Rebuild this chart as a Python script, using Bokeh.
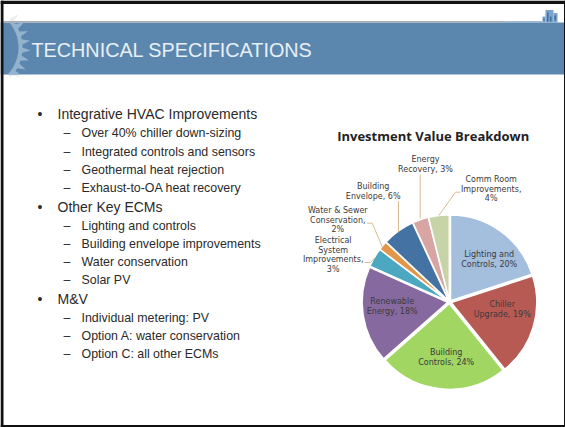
import numpy as np
from bokeh.plotting import figure
from bokeh.embed import file_html
from bokeh.resources import INLINE
from bokeh.core.properties import value

# ---- data
slice_names = ["Lighting and\nControls, 20%", "Chiller\nUpgrade, 19%", "Building\nControls, 24%",
               "Renewable\nEnergy, 18%", "Electrical\nSystem\nImprovements,\n3%",
               "Water & Sewer\nConservation,\n2%", "Building\nEnvelope, 6%",
               "Energy\nRecovery, 3%", "Comm Room\nImprovements,\n4%"]
slice_values = [20.0, 19.2, 24.3, 18.2, 3.6, 1.7, 6.1, 3.0, 3.9]
slice_colors = ["#A4BEDE", "#B85A54", "#A1D662", "#86699F", "#4BA8C0",
                "#E3964A", "#4472A2", "#D9A5A3", "#C6D4A8"]
chart_title = "Investment Value Breakdown"
slide_title = "TECHNICAL SPECIFICATIONS"
main_items = ["Integrative HVAC Improvements", "Other Key ECMs", "M&V"]
sub_items = [["Over 40% chiller down-sizing", "Integrated controls and sensors",
              "Geothermal heat rejection", "Exhaust-to-OA heat recovery"],
             ["Lighting and controls", "Building envelope improvements",
              "Water conservation", "Solar PV"],
             ["Individual metering: PV", "Option A: water conservation",
              "Option C: all other ECMs"]]

W, H = 565, 427
def Y(v):
    return H - np.asarray(v, dtype=float)

p = figure(width=W, height=H, x_range=(0, W), y_range=(0, H), output_backend="svg",
           toolbar_location=None, min_border=0, outline_line_color=None,
           x_axis_type=None, y_axis_type=None, margin=(0, 0, 0, 0))
p.grid.visible = False
p.background_fill_color = "white"

# ---- gear (pale part outside the band, then the band, then the gear clipped to band)
gx, gy, gr = -21, 47, 39
ang, rad = [], []
for a in np.arange(-44, 44, 11.0):
    ang += [a, a + 3.5, a + 7.0]
    rad += [gr + 4, gr + 12, gr + 4]
ang = np.radians(np.array(ang + [44]))
rad = np.array(rad + [gr + 4])
inner = np.radians(np.arange(44, -45, -6.0))
ga = np.concatenate([ang, inner])
gra = np.concatenate([rad, np.full(inner.size, gr)])
g_x = gx + gra * np.cos(ga)
g_y = gy + gra * np.sin(ga)
p.patch(g_x, Y(g_y), fill_color="#EDEFF1", line_color=None)

# header band
p.quad(left=[0], right=[W], top=Y([22]), bottom=Y([74]), fill_color="#5B87AE", line_color=None)
p.line([3, 505], Y([21.2, 21.2]), line_color="#A9ABAD", line_width=1.5)
p.line([505, 542], Y([21.4, 21.4]), line_color="#7FA3C7", line_width=1.2)
p.patch(g_x, Y(np.clip(g_y, 22, 74)), fill_color="#93B2CC", line_color=None)

# building icon
p.quad(left=[542, 545, 553], right=[545, 553, 557], top=Y([16, 9.5, 12.5]),
       bottom=Y([22, 22, 22]), fill_color="#7BA3CC", line_color=None)
p.quad(left=[543, 546.5, 549.5, 554], right=[544, 548, 551, 555.5], top=Y([18, 12, 16, 15]),
       bottom=Y([20.5, 21, 21, 20]), fill_color="#3F6F9F", line_color=None)

p.text([31], Y([49.8]), text=[slide_title], text_font=value("Liberation Sans"), text_font_size="19.8px",
       text_color="#E8EFF5", text_baseline="middle", text_align="left")

# ---- bullet list
row_y = [113.8, 206.0, 298.0]
sub_step = 18.2
for my, main, subs in zip(row_y, main_items, sub_items):
    p.text([37], Y([my]), text=["•"], text_font=value("Liberation Sans"), text_font_size="14px",
           text_color="#2A2A2A", text_baseline="middle")
    p.text([57], Y([my]), text=[main], text_font=value("Liberation Sans"), text_font_size="14px",
           text_color="#2A2A2A", text_baseline="middle")
    for i, s in enumerate(subs):
        yy = my + 19.0 + i * sub_step
        p.text([63], Y([yy]), text=["–"], text_font=value("Liberation Sans"), text_font_size="12.4px",
               text_color="#2A2A2A", text_baseline="middle")
        p.text([81], Y([yy]), text=[s], text_font=value("Liberation Sans"), text_font_size="12.4px",
               text_color="#2A2A2A", text_baseline="middle")

# ---- pie
cx, cy, R, gap = 449.0, 301.5, 85.5, 1.8
vals = np.array(slice_values, dtype=float)
cum = np.concatenate([[0], np.cumsum(vals)]) / vals.sum() * 2 * np.pi
starts, ends = np.pi / 2 - cum[1:], np.pi / 2 - cum[:-1]
mid = (starts + ends) / 2
xs = cx + gap * np.cos(mid)
ys = Y(cy) + gap * np.sin(mid)
p.wedge(x=xs, y=ys, radius=R, start_angle=starts, end_angle=ends,
        fill_color=slice_colors, line_color="white", line_width=1.4)

# ---- leader lines
leaders = [([419.7, 419.7], [174, 218]),
           ([460, 455, 438.3], [191.7, 191.7, 215]),
           ([398, 398], [200.7, 231.7]),
           ([366.7, 371.7, 381.7], [222.7, 222.7, 246]),
           ([364, 370, 375], [262, 262, 256.7])]
for lx, ly in leaders:
    p.line(lx, Y(ly), line_color="#D8BC90", line_width=1)

# ---- slice labels (x centre, y of the first line)
lab_x = [488.7, 501.7, 445.7, 391.7, 332.7, 337.3, 372.7, 425.0, 490.7]
lab_y = [254.0, 304.0, 352.0, 301.0, 240.0, 210.0, 186.3, 159.0, 179.0]
line_step = 9.5
for lx, ly, name in zip(lab_x, lab_y, slice_names):
    for i, part in enumerate(name.split("\n")):
        p.text([lx], Y([ly + i * line_step]), text=[part], text_font=value("DejaVu Sans"),
               text_font_size="8px", text_color="#3A3A3A", text_align="center",
               text_baseline="middle")

p.text([432.7], Y([135.5]), text=[chart_title], text_font=value("Open Sans"), text_font_size="13px",
       text_font_style="bold", text_color="#222222", text_align="center", text_baseline="middle")

# ---- slide frame
p.quad(left=[0, 0, 0, 563.5], right=[W, W, 3, W], top=Y([0, 424.5, 0, 0]), bottom=Y([3.5, 427, 427, 427]),
       fill_color="#111111", line_color=None)

open("out.html", "w").write(file_html(p, INLINE))
